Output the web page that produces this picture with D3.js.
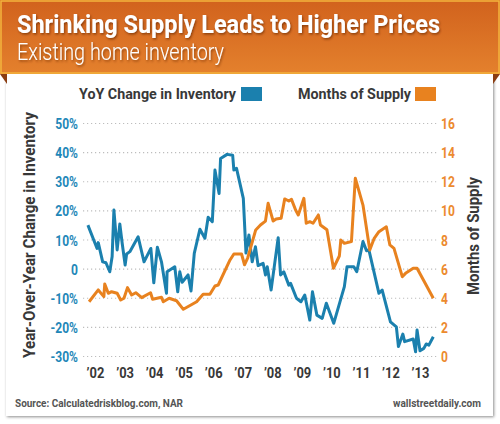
<!DOCTYPE html>
<html><head><meta charset="utf-8">
<script src="https://cdn.jsdelivr.net/npm/d3@7"></script>
<style>html,body{margin:0;padding:0;background:#fff;}svg{display:block;}</style>
</head><body>
<script>
// ---- data ----
const invYears = [2001.76,2002.07,2002.11,2002.26,2002.37,2002.50,2002.58,2002.64,2002.75,2002.84,2002.92,2003.02,2003.07,2003.18,2003.46,2003.66,2003.89,2003.99,2004.11,2004.25,2004.42,2004.44,2004.70,2004.80,2004.87,2004.95,2005.15,2005.25,2005.36,2005.55,2005.72,2005.83,2005.97,2006.06,2006.20,2006.25,2006.47,2006.66,2006.70,2006.79,2007.02,2007.11,2007.21,2007.32,2007.43,2007.52,2007.69,2007.77,2007.83,2007.96,2008.20,2008.28,2008.39,2008.56,2008.62,2008.82,2008.97,2009.10,2009.27,2009.36,2009.51,2009.69,2009.83,2010.08,2010.44,2010.53,2010.76,2010.86,2011.07,2011.19,2011.27,2011.61,2011.72,2012.00,2012.20,2012.27,2012.42,2012.48,2012.77,2012.85,2012.90,2013.00,2013.13,2013.21,2013.30,2013.45];
const invChange = [15.1,7.1,9.1,2.5,2.2,-0.9,4.3,20.3,6.6,15.5,8.9,1.4,5.2,6.0,11.1,2.5,7.1,-4.7,7.5,2.5,-8.3,-0.9,0.8,-7.8,-0.9,-4.5,-2.0,-7.5,5.4,13.7,10.6,17.8,16.3,34.0,26.0,38.0,39.4,39.1,34.0,34.6,24.3,5.5,11.7,2.5,7.7,1.2,2.0,-2.0,0.8,-7.2,10.8,-2.0,-0.9,-5.5,-4.9,-10.0,-11.2,-8.9,-17.5,-7.8,-15.8,-16.9,-11.7,-18.6,-6.0,0.8,0.8,-0.9,9.5,6.3,6.6,-8.3,-7.2,-18.1,-19.8,-26.6,-22.3,-24.9,-24.0,-28.4,-20.9,-28.0,-27.2,-25.7,-26.1,-23.2];
const supYears = [2001.80,2002.11,2002.30,2002.33,2002.45,2002.56,2002.75,2002.87,2002.98,2003.10,2003.24,2003.38,2003.58,2003.88,2003.95,2004.25,2004.31,2004.51,2004.76,2004.99,2005.44,2005.66,2005.89,2006.06,2006.17,2006.57,2006.70,2006.96,2007.06,2007.17,2007.44,2007.60,2007.77,2007.86,2008.03,2008.13,2008.30,2008.42,2008.56,2008.65,2008.79,2008.88,2009.07,2009.15,2009.27,2009.38,2009.56,2009.63,2009.85,2010.07,2010.27,2010.32,2010.44,2010.68,2010.81,2011.07,2011.30,2011.45,2011.61,2011.86,2011.98,2012.12,2012.40,2012.51,2012.77,2012.90,2013.45];
const supMonths = [3.76,4.57,4.11,4.98,4.34,4.45,4.34,3.88,4.0,4.73,4.22,4.38,4.04,4.38,3.93,4.07,3.76,4.0,3.83,3.24,3.76,4.27,4.27,4.84,4.91,6.63,7.04,7.04,6.3,6.78,8.69,9.03,9.3,10.52,9.3,9.44,9.49,10.82,10.68,10.79,10.06,9.72,10.86,9.15,9.26,9.15,9.72,9.03,8.7,6.06,6.9,8.0,7.77,7.9,12.24,10.4,7.31,8.12,8.57,8.91,7.66,7.43,5.48,5.71,6.06,6.06,4.0];
const xTickYears = [2002,2003,2004,2005,2006,2007,2008,2009,2010,2011,2012,2013];
const xTickLabels = ["’02","’03","’04","’05","’06","’07","’08","’09","’10","’11","’12","’13"];
const leftTicks = [50,40,30,20,10,0,-10,-20,-30];
const leftTickLabels = ["50%","40%","30%","20%","10%","0","-10%","-20%","-30%"];
const rightTicks = [16,14,12,10,8,6,4,2,0];
const rightTickLabels = ["16","14","12","10","8","6","4","2","0"];
const titleText = "Shrinking Supply Leads to Higher Prices";
const subtitleText = "Existing home inventory";
const seriesNames = ["YoY Change in Inventory","Months of Supply"];
const leftAxisTitle = "Year-Over-Year Change in Inventory";
const rightAxisTitle = "Months of Supply";
const sourceText = "Source: Calculatedriskblog.com, NAR";
const brandText = "wallstreetdaily.com";

// ---- drawing ----
const W=500,H=424;
const BLUE="#1b80ae", ORANGE="#e8821f", BLUE_T="#1e87b8", ORANGE_T="#ec8a2e", DARK="#383838";
const FONT="Roboto, 'Liberation Sans', Arial, sans-serif";
const svg=d3.select("body").append("svg").attr("width",W).attr("height",H);
const defs=svg.append("defs");
const g1=defs.append("linearGradient").attr("id","hdr").attr("x1",0).attr("y1",0).attr("x2",0).attr("y2",1);
g1.append("stop").attr("offset","0%").attr("stop-color","#d1621d");
g1.append("stop").attr("offset","100%").attr("stop-color","#e4812d");
const sh=defs.append("filter").attr("id","cardsh").attr("x","-5%").attr("y","-5%").attr("width","110%").attr("height","110%");
sh.append("feDropShadow").attr("dx",1).attr("dy",1).attr("stdDeviation",1.5).attr("flood-color","#000").attr("flood-opacity",0.45);
const ts=defs.append("filter").attr("id","tsh").attr("x","-5%").attr("y","-20%").attr("width","110%").attr("height","160%");
ts.append("feDropShadow").attr("dx",1).attr("dy",1.5).attr("stdDeviation",1.2).attr("flood-color","#6a2800").attr("flood-opacity",0.7);

// card
svg.append("rect").attr("x",6).attr("y",72).attr("width",487).attr("height",344).attr("fill","#fff").attr("filter","url(#cardsh)");
// header
svg.append("rect").attr("x",0).attr("y",0).attr("width",W).attr("height",74).attr("fill","url(#hdr)");
svg.append("rect").attr("x",1).attr("y",1).attr("width",W-2).attr("height",72).attr("fill","none").attr("stroke","#f3b53e").attr("stroke-width",1.5);
svg.append("path").attr("d","M0,74 L7,74 L7,84 Z").attr("fill","#8a3d12");
svg.append("path").attr("d","M500,74 L493,74 L493,84 Z").attr("fill","#8a3d12");

function fit(sel,w){sel.attr("textLength",w).attr("lengthAdjust","spacingAndGlyphs");return sel;}

fit(svg.append("text").attr("x",17).attr("y",33).attr("font-family",FONT).attr("font-weight","bold").attr("font-size",26.5)
  .attr("fill","#fff").attr("filter","url(#tsh)").text(titleText),423);
fit(svg.append("text").attr("x",17).attr("y",60).attr("font-family",FONT).attr("font-weight",300).attr("font-size",24)
  .attr("fill","#fff").attr("filter","url(#tsh)").text(subtitleText),207);

// scales
const x=d3.scaleLinear().domain([2002,2013]).range([95,420]);
const yL=d3.scaleLinear().domain([-30,50]).range([356.5,123.5]);
const yR=d3.scaleLinear().domain([0,16]).range([356.5,123.5]);

// grid
svg.append("g").selectAll("line").data(leftTicks).join("line")
  .attr("x1",83).attr("x2",437).attr("y1",d=>yL(d)).attr("y2",d=>yL(d))
  .attr("stroke","#bdbdbd").attr("stroke-width",1.2).attr("stroke-dasharray","1.2,2.8");

// left axis
const axL=d3.axisLeft(yL).tickValues(leftTicks).tickSize(0).tickPadding(0).tickFormat((d,i)=>leftTickLabels[i]);
const gL=svg.append("g").attr("transform","translate(78,0)").call(axL);
gL.select(".domain").remove();
gL.selectAll("text").attr("font-family",FONT).attr("font-weight","bold").attr("font-size",14).attr("fill",BLUE_T).attr("dy","0.36em");
const axR=d3.axisRight(yR).tickValues(rightTicks).tickSize(0).tickPadding(0).tickFormat((d,i)=>rightTickLabels[i]);
const gR=svg.append("g").attr("transform","translate(441,0)").call(axR);
gR.select(".domain").remove();
gR.selectAll("text").attr("font-family",FONT).attr("font-weight","bold").attr("font-size",14).attr("fill",ORANGE_T).attr("dy","0.36em");
const axX=d3.axisBottom(x).tickValues(xTickYears).tickSize(0).tickPadding(0).tickFormat((d,i)=>xTickLabels[i]);
const gX=svg.append("g").attr("transform","translate(0,367)").call(axX);
gX.select(".domain").remove();
gX.selectAll("text").attr("font-family",FONT).attr("font-weight","bold").attr("font-size",15).attr("fill",DARK).attr("dy","0.72em");
[gL,gR,gX].forEach(g=>g.selectAll("text").each(function(){const w=this.getComputedTextLength();d3.select(this).attr("textLength",w*0.86).attr("lengthAdjust","spacingAndGlyphs");}));

// lines
const blueData=invYears.map((t,i)=>[t,invChange[i]]);
const orData=supYears.map((t,i)=>[t,supMonths[i]]);
svg.append("path").datum(blueData).attr("fill","none").attr("stroke",BLUE).attr("stroke-width",3).attr("stroke-linejoin","round")
  .attr("d",d3.line().x(d=>x(d[0])).y(d=>yL(d[1])));
svg.append("path").datum(orData).attr("fill","none").attr("stroke",ORANGE).attr("stroke-width",3).attr("stroke-linejoin","round")
  .attr("d",d3.line().x(d=>x(d[0])).y(d=>yR(d[1])));

// legend
fit(svg.append("text").attr("x",79).attr("y",98.5).attr("font-family",FONT).attr("font-weight","bold").attr("font-size",15).attr("fill",DARK).text(seriesNames[0]),157);
svg.append("rect").attr("x",241).attr("y",87).attr("width",21).attr("height",14).attr("fill",BLUE);
fit(svg.append("text").attr("x",298).attr("y",98.5).attr("font-family",FONT).attr("font-weight","bold").attr("font-size",15).attr("fill",DARK).text(seriesNames[1]),113);
svg.append("rect").attr("x",415).attr("y",87).attr("width",21).attr("height",14).attr("fill",ORANGE);

// axis titles
fit(svg.append("text").attr("transform","translate(35,235) rotate(-90)").attr("text-anchor","middle").attr("font-family",FONT).attr("font-weight","bold").attr("font-size",16.5).attr("fill",DARK).text(leftAxisTitle),246);
fit(svg.append("text").attr("transform","translate(479,236) rotate(-90)").attr("text-anchor","middle").attr("font-family",FONT).attr("font-weight","bold").attr("font-size",16.5).attr("fill",DARK).text(rightAxisTitle),118);

// footer
fit(svg.append("text").attr("x",15).attr("y",407).attr("font-family",FONT).attr("font-weight","bold").attr("font-size",11).attr("fill","#555").text(sourceText),168);
fit(svg.append("text").attr("x",393).attr("y",407).attr("font-family",FONT).attr("font-weight","bold").attr("font-size",11).attr("fill","#555").text(brandText),88);
</script>
</body></html>
